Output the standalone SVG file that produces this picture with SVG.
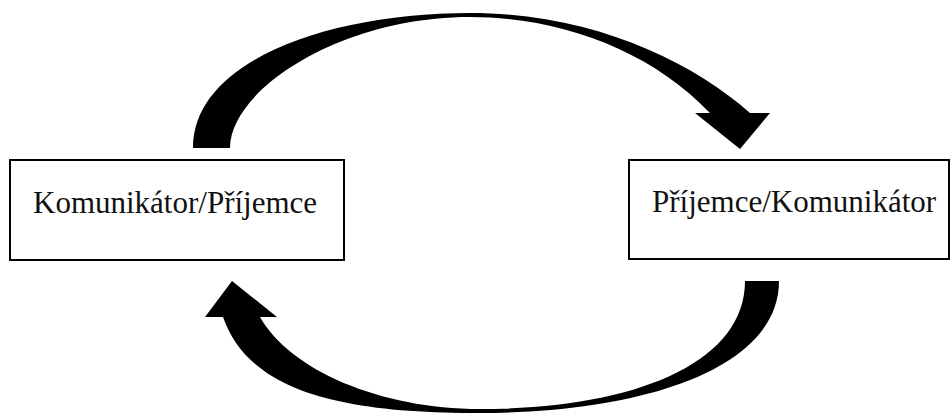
<svg xmlns="http://www.w3.org/2000/svg" width="952" height="414" viewBox="0 0 952 414">
<style>
.box{fill:#fff;stroke:#000;stroke-width:2}
.lbl{font-family:"Liberation Serif","Times New Roman",serif;font-size:31px;fill:#111}
.arr{fill:#000;stroke:none}
</style>
<rect width="952" height="414" fill="#fff"/>
<g id="connectors">
<path id="arrow-top" class="arr" d="M193,148 C193,60 330,13 470,13 C590,13 690,60 750,113 L770,113 L740,149 L695,113 L710,113 C650,50 560,17 470,17 C340,17 230,90 230,148 Z"/>
<path id="arrow-bottom" class="arr" d="M779,281 C779,370 640,413 480,413 C350,413 250,395 223,317 L205,317 L232,281 L277,317 L260,317 C290,370 380,409 480,409 C630,409 745,365 745,281 Z"/>
</g>
<g id="node-left">
<rect class="box" x="10" y="160" width="334" height="100"/>
<text class="lbl" x="33" y="213">Komunikátor/Příjemce</text>
</g>
<g id="node-right">
<rect class="box" x="629" y="160" width="320" height="99"/>
<text class="lbl" x="652" y="212">Příjemce/Komunikátor</text>
</g>
</svg>
